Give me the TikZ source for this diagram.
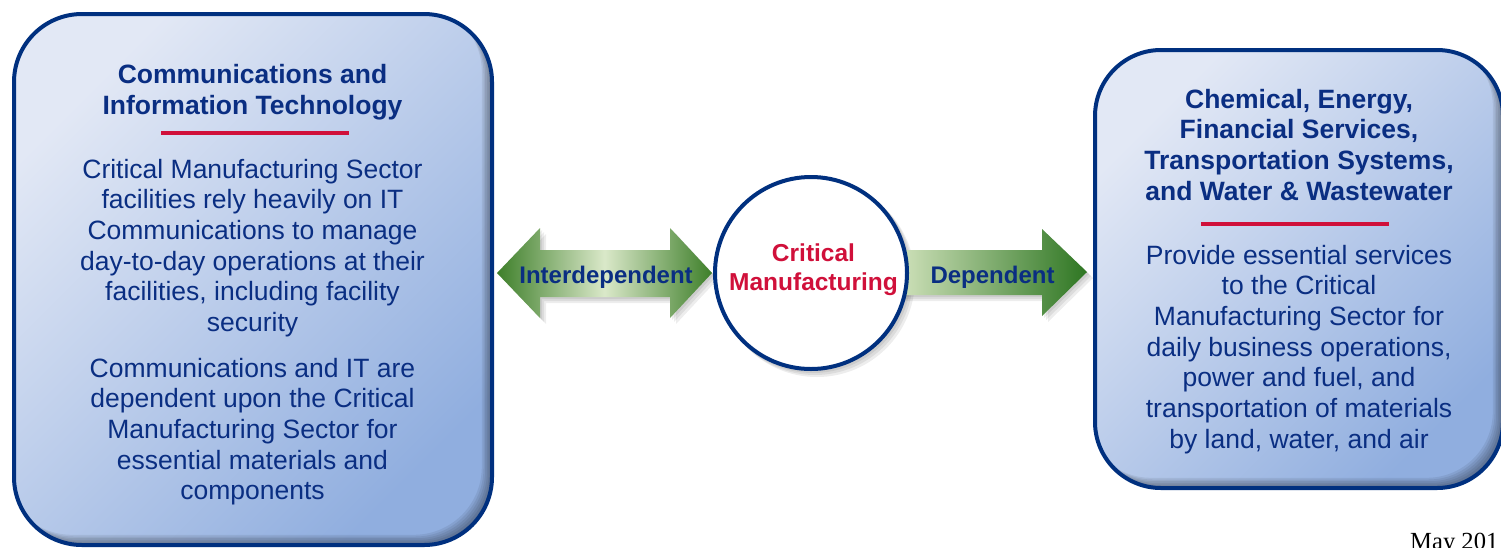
\documentclass[tikz,border=0pt]{standalone}
\usepackage{fontspec}
\setmainfont{Liberation Sans}
\newfontfamily\seriffont{Liberation Serif}
\usetikzlibrary{shadows}
\definecolor{navy}{HTML}{00307F}
\definecolor{txtnavy}{HTML}{0A2E82}
\definecolor{crim}{HTML}{D0103A}
\definecolor{boxlt}{HTML}{E2E8F5}
\definecolor{boxdk}{HTML}{90AEDF}
\definecolor{grdk}{HTML}{3E7F2A}
\definecolor{grlt}{HTML}{DAE8C9}
\definecolor{grlt2}{HTML}{D3E4BE}
\definecolor{grdk2}{HTML}{2E7622}
\tikzset{
  boxfill/.style={rounded corners=#1, top color=boxlt, bottom color=boxdk, shading angle=45},
  boxline/.style={rounded corners=#1, draw=navy, line width=4pt},
  redrule/.style={draw=crim, line width=3.5pt},
  bodytxt/.style={text=txtnavy, align=center, inner sep=0pt, font=\fontsize{26.5}{30.7}\selectfont},
  headtxt/.style={text=txtnavy, align=center, inner sep=0pt, font=\bfseries\fontsize{26.5}{30.7}\selectfont},
  arrowtxt/.style={text=txtnavy, inner sep=0pt, font=\bfseries\fontsize{24}{28}\selectfont},
  centertxt/.style={text=crim, inner sep=0pt, font=\bfseries\fontsize{24.5}{29}\selectfont},
  softshade/.style={black, opacity=0.07},
}
\begin{document}
\begin{tikzpicture}[x=1pt,y=-1pt]
\useasboundingbox (0,0) rectangle (1501,547);

% ---------- left box ----------
\path[boxfill=68pt] (14,14) rectangle (492,545);
\begin{scope}
  \clip[rounded corners=68pt] (14,14) rectangle (492,545);
  \foreach \k in {1,...,6}{
    \fill[black, opacity=0.07, even odd rule, rounded corners=68pt]
      (14,14) rectangle (492,545)
      (14-1.7*\k,14-1.7*\k) rectangle (492-1.7*\k,545-1.7*\k);
  }
\end{scope}
\path[boxline=68pt] (14,14) rectangle (492,545);

% ---------- right box ----------
\path[boxfill=66pt] (1095,50) rectangle (1503,488);
\begin{scope}
  \clip[rounded corners=66pt] (1095,50) rectangle (1503,488);
  \foreach \k in {1,...,6}{
    \fill[black, opacity=0.07, even odd rule, rounded corners=66pt]
      (1095,50) rectangle (1503,488)
      (1095-1.7*\k,50-1.7*\k) rectangle (1503-1.7*\k,488-1.7*\k);
  }
\end{scope}
\path[boxline=66pt] (1095,50) rectangle (1503,488);

% ---------- soft shadows of arrows ----------
\foreach \s in {2,4,6}{
  \fill[softshade, shift={(\s,\s)}]
    (497,273) -- (540,228) -- (540,250) -- (670,250) -- (670,228) -- (712,273)
    -- (670,318) -- (670,297) -- (540,297) -- (540,318) -- cycle;
  \fill[softshade, shift={(\s,\s)}]
    (895,250) -- (1042,250) -- (1042,229) -- (1087,272) -- (1042,316) -- (1042,295)
    -- (895,295) -- cycle;
  \fill[softshade] (811+\s,273+\s) circle (98);
}

% ---------- arrows ----------
\path[left color=grdk, right color=grdk, middle color=grlt]
  (497,273) -- (540,228) -- (540,250) -- (670,250) -- (670,228) -- (712,273)
  -- (670,318) -- (670,297) -- (540,297) -- (540,318) -- cycle;
\path[left color=grlt2, right color=grdk2]
  (895,250) -- (1042,250) -- (1042,229) -- (1087,272) -- (1042,316) -- (1042,295)
  -- (895,295) -- cycle;

% ---------- centre circle ----------
\node[circle, draw=navy, line width=4pt, fill=white, minimum size=192pt, inner sep=0pt] (cm) at (811,273) {};
\node[centertxt, anchor=base] (crit) at (813.5,261) {Critical};
\node[centertxt, anchor=base] (manu) at (813.5,290) {Manufacturing};

\node[arrowtxt, anchor=base] (inter) at (606,283) {Interdependent};
\node[arrowtxt, anchor=base] (dep) at (992.5,283) {Dependent};

% ---------- left text ----------
\node[headtxt, anchor=base] (lt1) at (252.5,83) {Communications and};
\node[headtxt, anchor=base] (lt2) at (252.5,114) {Information Technology};
\draw[redrule] (161,133) -- (349,133);
\node[bodytxt, anchor=base] (lp1) at (252.5,178) {Critical Manufacturing Sector};
\node[bodytxt, anchor=base] (lp2) at (252.5,208.7) {facilities rely heavily on IT};
\node[bodytxt, anchor=base] (lp3) at (252.5,239.4) {Communications to manage};
\node[bodytxt, anchor=base] (lp4) at (252.5,270.1) {day-to-day operations at their};
\node[bodytxt, anchor=base] (lp5) at (252.5,300.8) {facilities, including facility};
\node[bodytxt, anchor=base] (lp6) at (252.5,331.5) {security};
\node[bodytxt, anchor=base] (lq1) at (252.5,377) {Communications and IT are};
\node[bodytxt, anchor=base] (lq2) at (252.5,407.7) {dependent upon the Critical};
\node[bodytxt, anchor=base] (lq3) at (252.5,438.4) {Manufacturing Sector for};
\node[bodytxt, anchor=base] (lq4) at (252.5,469.1) {essential materials and};
\node[bodytxt, anchor=base] (lq5) at (252.5,499.8) {components};

% ---------- right text ----------
\node[headtxt, anchor=base] (rt1) at (1299,108) {Chemical, Energy,};
\node[headtxt, anchor=base] (rt2) at (1299,138.7) {Financial Services,};
\node[headtxt, anchor=base] (rt3) at (1299,169.4) {Transportation Systems,};
\node[headtxt, anchor=base] (rt4) at (1299,200.1) {and Water \& Wastewater};
\draw[redrule] (1201,224) -- (1389,224);
\node[bodytxt, anchor=base] (rp1) at (1299,264) {Provide essential services};
\node[bodytxt, anchor=base] (rp2) at (1299,294.7) {to the Critical};
\node[bodytxt, anchor=base] (rp3) at (1299,325.4) {Manufacturing Sector for};
\node[bodytxt, anchor=base] (rp4) at (1299,356.1) {daily business operations,};
\node[bodytxt, anchor=base] (rp5) at (1299,386.8) {power and fuel, and};
\node[bodytxt, anchor=base] (rp6) at (1299,417.5) {transportation of materials};
\node[bodytxt, anchor=base] (rp7) at (1299,448.2) {by land, water, and air};

% ---------- date (cut off at the lower edge, as in the reference) ----------
\node[anchor=base west, inner sep=0pt, font=\seriffont\fontsize{24.6}{28}\selectfont] (date) at (1410,549.5) {May 201};
\end{tikzpicture}
\end{document}
